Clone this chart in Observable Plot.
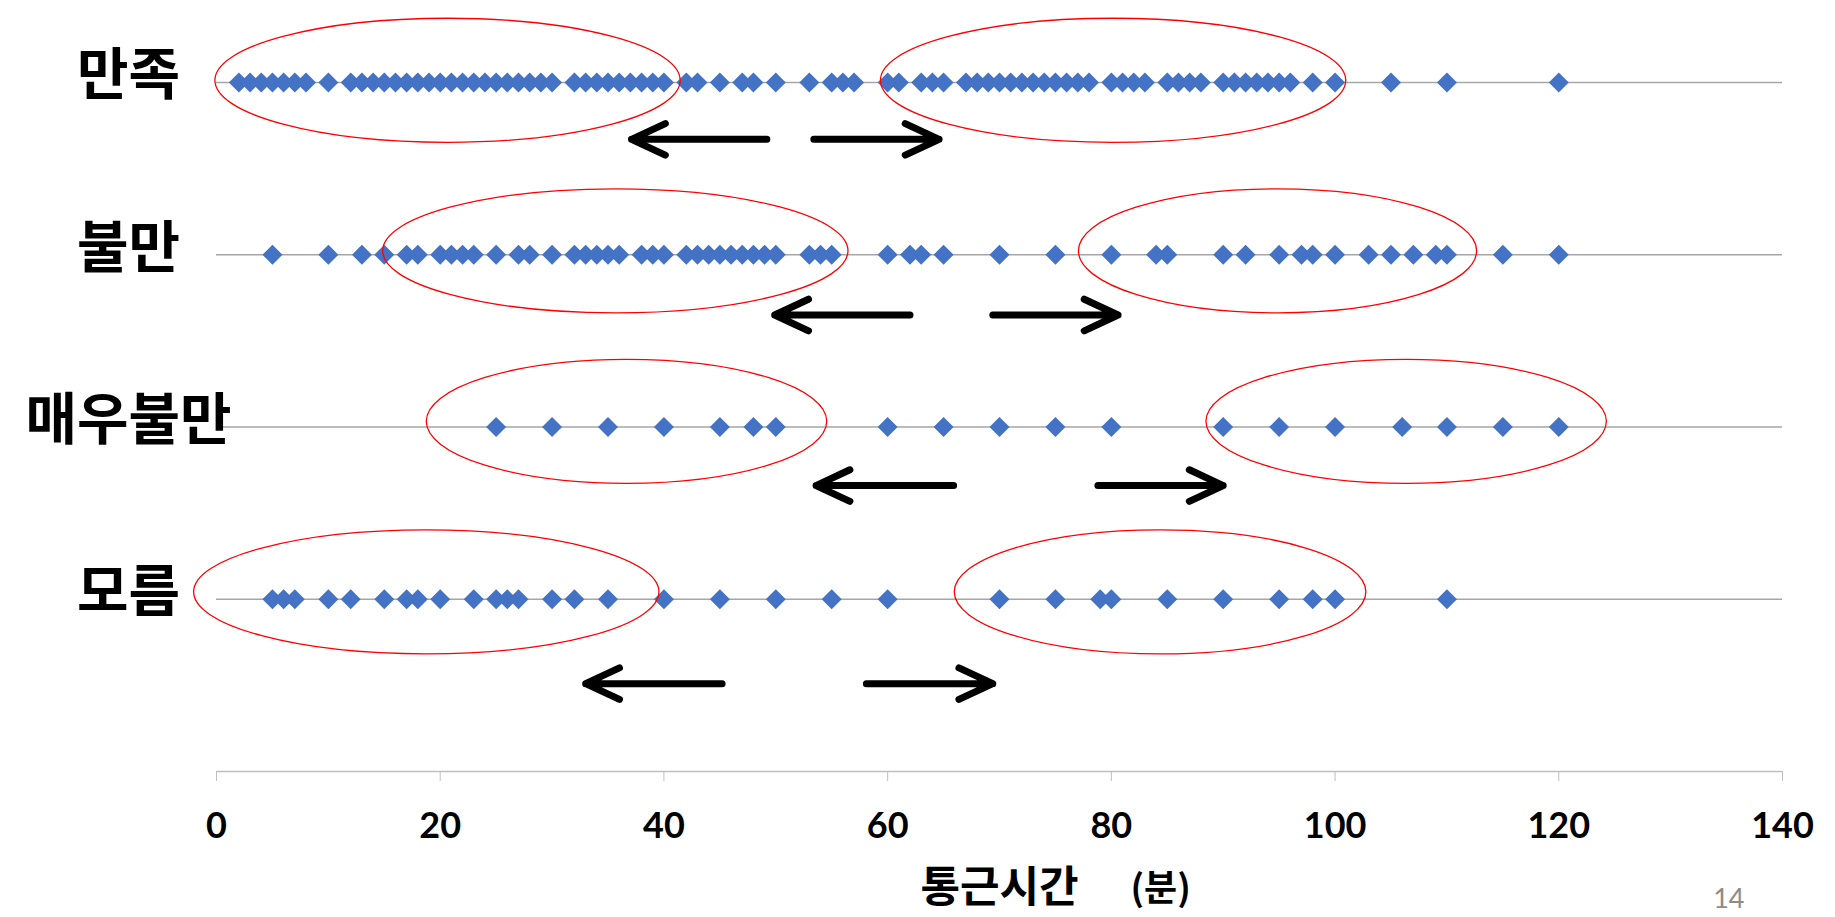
<!DOCTYPE html>
<html>
<head>
<meta charset="utf-8">
<script src="https://cdn.jsdelivr.net/npm/d3@7"></script>
<script src="https://cdn.jsdelivr.net/npm/@observablehq/plot@0.6"></script>
<style>
  body { margin: 0; background: #fff; }
  svg { display: block; }
</style>
</head>
<body>
<div id="chart"></div>
<script>
// Commute time (minutes) of each respondent, grouped by satisfaction answer
const groups = ["만족", "불만", "매우불만", "모름"];
const groupLevel = [4, 3, 2, 1];

const satisfied = [2, 3, 4, 5, 6, 7, 8, 10, 12, 13, 14, 15, 16, 17, 18, 19, 20, 21, 22, 23, 24, 25, 26, 27, 28, 29, 30,
  32, 33, 34, 35, 36, 37, 38, 39, 40, 42, 43, 45, 47, 48, 50, 53, 55, 56, 57, 60, 61, 63, 64, 65,
  67, 68, 69, 70, 71, 72, 73, 74, 75, 76, 77, 78, 80, 81, 82, 83, 85, 86, 87, 88, 90, 91, 92, 93, 94, 95, 96,
  98, 100, 105, 110, 120];
const dissatisfied = [5, 10, 13, 15, 17, 18, 20, 21, 22, 23, 25, 27, 28, 30, 32, 33, 34, 35, 36, 38, 39, 40,
  42, 43, 44, 45, 46, 47, 48, 49, 50, 53, 54, 55, 60, 62, 63, 65, 70, 75, 80, 84, 85, 90, 92, 95, 97, 98,
  100, 103, 105, 107, 109, 110, 115, 120];
const veryDissatisfied = [25, 30, 35, 40, 45, 48, 50, 60, 65, 70, 75, 80, 90, 95, 100, 106, 110, 115, 120];
const unknown = [5, 6, 7, 10, 12, 15, 17, 18, 20, 23, 25, 26, 27, 30, 32, 35, 40, 45, 50, 55, 60, 70, 75, 79, 80,
  85, 90, 95, 98, 100, 110];

const xTicks = [0, 20, 40, 60, 80, 100, 120, 140];
const xTitle = "통근시간";
const xUnit = "(분)";
const pageNumber = "14";

// Highlighted clusters: group, centre (minutes), half width (minutes)
const clusterGroup = ["만족", "만족", "불만", "불만", "매우불만", "매우불만", "모름", "모름"];
const clusterCenter = [20.7, 80.2, 35.7, 94.9, 36.7, 106.4, 18.8, 84.4];
const clusterHalfWidth = [20.8, 20.8, 20.8, 17.8, 17.9, 17.9, 20.8, 18.4];

// Direction arrows under each row: group, tail (minutes), head (minutes)
const arrowGroup = ["만족", "만족", "불만", "불만", "매우불만", "매우불만", "모름", "모름"];
const arrowTail = [49.2, 53.4, 62.0, 69.4, 65.9, 78.8, 45.2, 58.1];
const arrowHead = [37.1, 64.6, 49.9, 80.6, 53.6, 90.0, 33.0, 69.4];

const levelOf = new Map(groups.map((g, i) => [g, groupLevel[i]]));
const series = [satisfied, dissatisfied, veryDissatisfied, unknown];
const points = series.flatMap((values, i) => values.map(v => ({group: groups[i], minutes: v, level: groupLevel[i]})));
const clusters = clusterGroup.map((g, i) => ({level: levelOf.get(g), center: clusterCenter[i], half: clusterHalfWidth[i]}));
const arrows = arrowGroup.map((g, i) => ({level: levelOf.get(g), tail: arrowTail[i], head: arrowHead[i]}));

const arrowDrop = new Map([[4, 0.33], [3, 0.35], [2, 0.34], [1, 0.49]]);
const clusterLift = new Map([[4, 0.01], [3, 0.02], [2, 0.03], [1, 0.04]]);
const clusterHalfHeight = 0.36;

// Red outline around each cluster, sized in data units through the scales
function clusterOutlines(index, scales) {
  const g = d3.create("svg:g")
    .attr("fill", "none")
    .attr("stroke", "#ff0000")
    .attr("stroke-width", 1.3);
  for (const c of clusters) {
    const cx = scales.x(c.center);
    const cy = scales.y(c.level + clusterLift.get(c.level));
    g.append("ellipse")
      .attr("cx", cx)
      .attr("cy", cy)
      .attr("rx", scales.x(c.center + c.half) - cx)
      .attr("ry", scales.y(c.level) - scales.y(c.level + clusterHalfHeight));
  }
  return g.node();
}

const chart = Plot.plot({
  width: 1835,
  height: 917,
  marginLeft: 216,
  marginRight: 53,
  marginTop: 82,
  marginBottom: 146,
  x: {domain: [0, 140], axis: null},
  y: {domain: [0, 4], axis: null},
  style: {background: "#fff", color: "#000", fontFamily: "Lato, 'Noto Sans CJK KR', sans-serif"},
  marks: [
    Plot.ruleY(groupLevel, {x1: 0, x2: 140, stroke: "#a6a6a6", strokeWidth: 1.4}),
    Plot.ruleY([0], {x1: 0, x2: 140, stroke: "#bfbfbf", strokeWidth: 1.5}),
    Plot.axisX({
      ticks: xTicks, tickSize: 10, tickPadding: 31, stroke: "#bfbfbf", fill: "#000",
      fontSize: 36, fontWeight: "bold", fontFamily: "Lato", label: null
    }),
    Plot.dot(points, {x: "minutes", y: "level", symbol: "diamond2", r: 9, fill: "#4472C4", stroke: "none"}),
    clusterOutlines,
    Plot.arrow(arrows, {
      x1: "tail", x2: "head",
      y1: d => d.level - arrowDrop.get(d.level), y2: d => d.level - arrowDrop.get(d.level),
      stroke: "#000", strokeWidth: 7, headAngle: 50, headLength: 8
    }),
    Plot.text(groups, {
      y: (d, i) => groupLevel[i], frameAnchor: "left", dx: -88, dy: -6,
      text: d => d, textAnchor: "middle", fontSize: 56, fontWeight: "bold",
      fontFamily: "'Noto Sans CJK KR'", fill: "#000"
    }),
    Plot.text([xTitle], {
      x: 70, y: 0, dy: 117, text: d => d, textAnchor: "middle", fontSize: 43, fontWeight: "bold",
      fontFamily: "'Noto Sans CJK KR'", fill: "#000"
    }),
    Plot.text([xUnit], {
      x: 70, y: 0, dx: 131, dy: 118, text: d => d, textAnchor: "start", fontSize: 36, fontWeight: "bold",
      fontFamily: "'Noto Sans CJK KR'", fill: "#000"
    }),
    Plot.text([pageNumber], {
      x: 135.2, y: 0, dy: 128, text: d => d, textAnchor: "middle", fontSize: 27,
      fontFamily: "Lato", fill: "#8c8c8c"
    })
  ]
});

document.getElementById("chart").append(chart);
</script>
</body>
</html>
